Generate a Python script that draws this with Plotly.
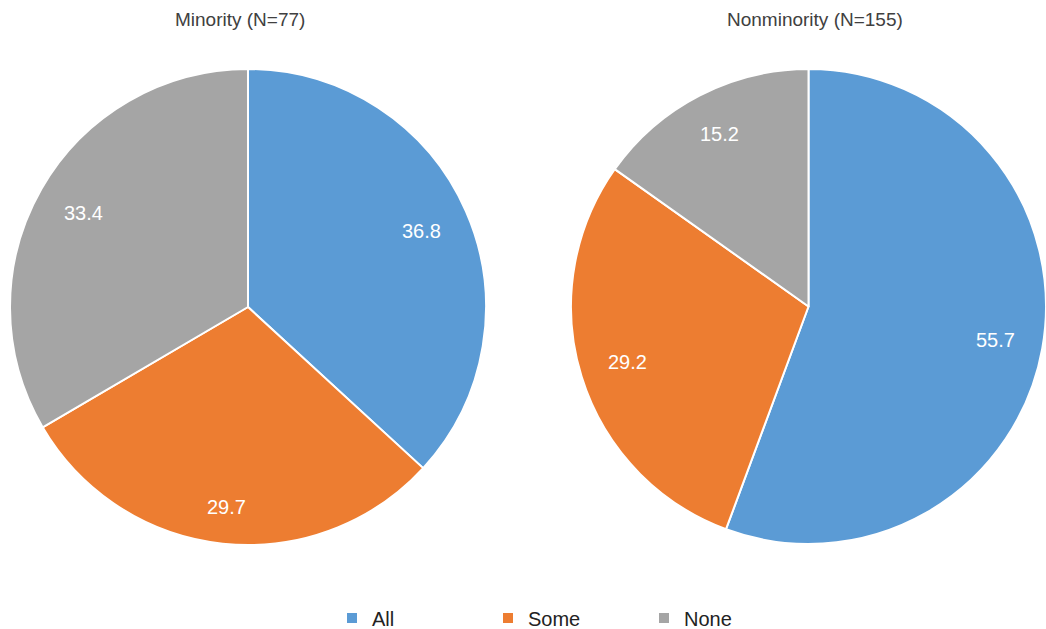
import math
import plotly.graph_objects as go

# Share of respondents by group
categories = ["All", "Some", "None"]
minority_values = [36.8, 29.7, 33.4]
nonminority_values = [55.7, 29.2, 15.2]
titles = ["Minority (N=77)", "Nonminority (N=155)"]
colors = ["#5B9BD5", "#ED7D31", "#A5A5A5"]

W, H = 1046, 629
FONT = "Liberation Sans, Arial, sans-serif"

# pie geometry in pixels: (center x, center y, radius)
pies = [
    (248, 307, 238),
    (808.5, 306.5, 237.5),
]


def dom(cx, cy, r):
    return dict(x=[max(0, (cx - r) / W), min(1, (cx + r) / W)],
                y=[1 - (cy + r) / H, 1 - (cy - r) / H])


common = dict(
    labels=categories,
    sort=False,
    direction="clockwise",
    rotation=0,
    textinfo="none",
    marker=dict(colors=colors, line=dict(color="white", width=2)),
    hoverinfo="label+value",
)

fig = go.Figure()
series = [minority_values, nonminority_values]
for i, (vals, (cx, cy, r)) in enumerate(zip(series, pies)):
    fig.add_trace(go.Pie(values=vals, domain=dom(cx, cy, r), name=titles[i],
                         showlegend=(i == 0), **common))

    # value labels placed near the outer edge of each slice
    total = sum(vals)
    cum = 0.0
    for v in vals:
        theta = 2 * math.pi * (cum + v / 2) / total
        cum += v
        dx, dy = math.sin(theta), math.cos(theta)
        d = 0.89 * r - (abs(dx) * 20 + abs(dy) * 9)
        px, py = cx + d * dx, cy - d * dy
        fig.add_annotation(x=px / W, y=1 - py / H, xref="paper", yref="paper",
                           xanchor="center", yanchor="middle",
                           text=f"{v:.1f}", showarrow=False,
                           font=dict(size=20, color="white", family=FONT))

title_x = [240, 815]
for tx, t in zip(title_x, titles):
    fig.add_annotation(x=tx / W, y=1 - 20 / H, xref="paper", yref="paper", text=t, showarrow=False,
                       xanchor="center", yanchor="middle",
                       font=dict(size=19, color="#404040", family=FONT))

fig.update_layout(
    width=W, height=H,
    margin=dict(l=0, r=0, t=0, b=0, autoexpand=False),
    paper_bgcolor="white", plot_bgcolor="white",
    font=dict(family=FONT),
    legend=dict(orientation="h", x=332 / W, xanchor="left", xref="container",
                y=1 - 618 / H, yanchor="middle", yref="container",
                font=dict(size=20, color="#222222"), itemwidth=30, entrywidth=111,
                entrywidthmode="pixels", traceorder="normal"),
)

fig.write_html("out.html")
